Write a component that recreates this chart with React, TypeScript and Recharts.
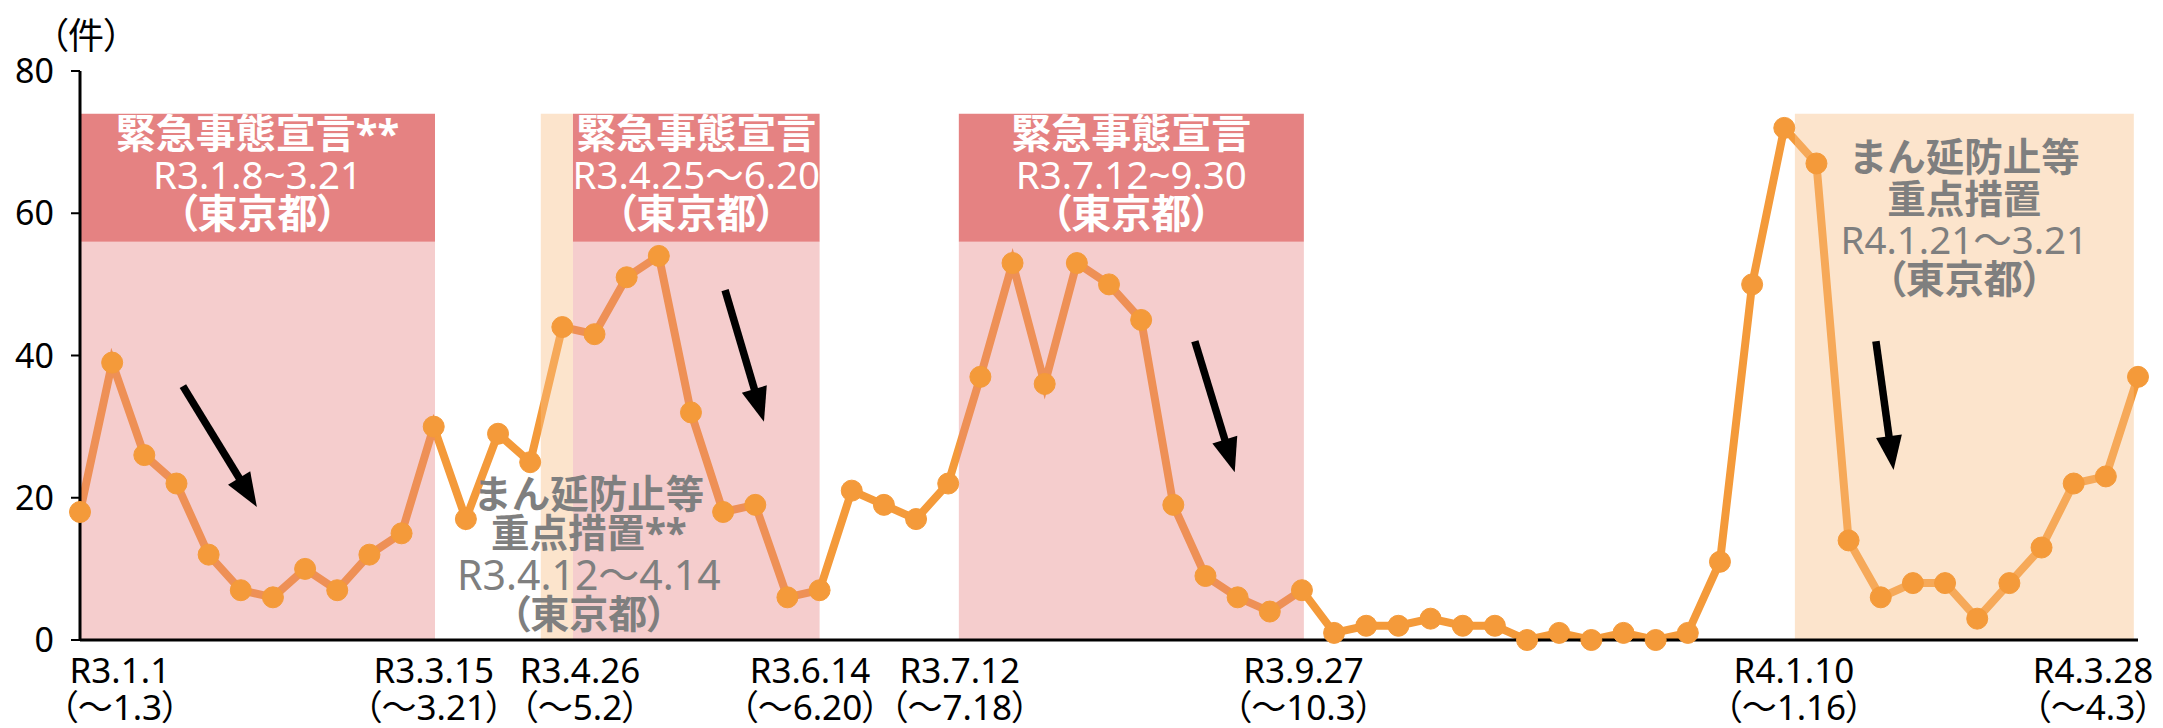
import React from 'react';
import { LineChart, Line, XAxis, YAxis, ReferenceArea, ReferenceLine } from 'recharts';

// weekly counts (R3.1.1 ... R4.3.28)
const counts = [
  18, 39, 26, 22, 12, 7, 6, 10, 7, 12,
  15, 30, 17, 29, 25, 44, 43, 51, 54, 32,
  18, 19, 6, 7, 21, 19, 17, 22, 37, 53,
  36, 53, 50, 45, 19, 9, 6, 4, 7, 1,
  2, 2, 3, 2, 2, 0, 1, 0, 1, 0,
  1, 11, 50, 72, 67, 14, 6, 8, 8, 3,
  8, 13, 22, 23, 37,
];

const xTickPos = [1.24, 11, 15.55, 22.7, 27.36, 38.05, 53.3, 62.6];
const xTickDate = ['R3.1.1', 'R3.3.15', 'R3.4.26', 'R3.6.14', 'R3.7.12', 'R3.9.27', 'R4.1.10', 'R4.3.28'];
const xTickRange = ['（～1.3）', '（～3.21）', '（～5.2）', '（～6.20）', '（～7.18）', '（～10.3）', '（～1.16）', '（～4.3）'];
const yTicks = [0, 20, 40, 60, 80];

const emergencyStart = [0, 15.33, 27.33];
const emergencyEnd = [11.04, 23, 38.06];
const emergencyTitle = ['緊急事態宣言**', '緊急事態宣言', '緊急事態宣言'];
const emergencyDates = ['R3.1.8~3.21', 'R3.4.25～6.20', 'R3.7.12~9.30'];

const manbouStart = [14.33, 53.33];
const manbouEnd = [15.33, 63.87];
const manbouTitle1 = ['まん延防止等', 'まん延防止等'];
const manbouTitle2 = ['重点措置**', '重点措置'];
const manbouDates = ['R3.4.12～4.14', 'R4.1.21～3.21'];
const regionName = '（東京都）';

const headerLow = 56;
const headerHigh = 74;

const arrowFromX = [3.2, 20.06, 34.67, 55.85];
const arrowFromY = [35.7, 49.2, 42.0, 42.0];
const arrowToX = [5.5, 21.27, 35.91, 56.4];
const arrowToY = [18.7, 30.7, 23.6, 23.9];

const data = counts.map((v, i) => ({ week: i, count: v }));

const FONT = "'Noto Sans', 'Noto Sans CJK JP', sans-serif";
const PALT = { fontFeatureSettings: '"palt"' } as React.CSSProperties;
const LINE_COLOR = '#F49A3A';
const EMERGENCY = '#E58282';
const MANBOU = '#F8BF86';
const GRAY = '#7F7F7F';

const XTick = (props: any) => {
  const { x, y, payload } = props;
  const i = xTickPos.indexOf(payload.value);
  if (i < 0) return null;
  return (
    <g>
      <text x={x} y={y + 43} textAnchor="middle" fontSize={35} fontFamily={FONT} fill="#000">
        {xTickDate[i]}
      </text>
      <text x={x} y={y + 80} textAnchor="middle" fontSize={35} fontFamily={FONT} fill="#000" style={PALT}>
        {xTickRange[i]}
      </text>
    </g>
  );
};

const YTick = (props: any) => {
  const { x, y, payload } = props;
  return (
    <text x={x} y={y} dy="0.36em" textAnchor="end" fontSize={34} fontFamily={FONT} fill="#000">
      {payload.value}
    </text>
  );
};

const makeHeaderLabel = (k: number) => (props: any) => {
  const vb = props.viewBox;
  if (!vb) return null;
  const cx = vb.x + vb.width / 2;
  const id = `hdrclip${k}`;
  return (
    <g>
      <defs>
        <clipPath id={id}>
          <rect x={vb.x} y={vb.y} width={vb.width} height={vb.height} />
        </clipPath>
      </defs>
      <g clipPath={`url(#${id})`} fontFamily={FONT} fill="#fff" textAnchor="middle">
        <text x={cx} y={vb.y + 19} dominantBaseline="central" fontWeight={700} fontSize={40}>
          {emergencyTitle[k]}
        </text>
        <text x={cx} y={vb.y + 60} dominantBaseline="central" fontSize={38.5}>
          {emergencyDates[k]}
        </text>
        <text x={cx} y={vb.y + 99} dominantBaseline="central" fontWeight={700} fontSize={40} style={PALT}>
          {regionName}
        </text>
      </g>
    </g>
  );
};

const manbouOffsets = [
  { dx: 32, ys: [379, 418, 460, 499], dateSize: 41 },
  { dx: 0, ys: [42, 84, 125, 164], dateSize: 38.5 },
];

const makeManbouLabel = (k: number) => (props: any) => {
  const vb = props.viewBox;
  if (!vb) return null;
  const o = manbouOffsets[k];
  const cx = vb.x + vb.width / 2 + o.dx;
  return (
    <g fontFamily={FONT} fill={GRAY} textAnchor="middle">
      <text x={cx} y={vb.y + o.ys[0]} dominantBaseline="central" fontWeight={700} fontSize={38.5}>
        {manbouTitle1[k]}
      </text>
      <text x={cx} y={vb.y + o.ys[1]} dominantBaseline="central" fontWeight={700} fontSize={38.5}>
        {manbouTitle2[k]}
      </text>
      <text x={cx} y={vb.y + o.ys[2]} dominantBaseline="central" fontSize={o.dateSize}>
        {manbouDates[k]}
      </text>
      <text x={cx} y={vb.y + o.ys[3]} dominantBaseline="central" fontWeight={700} fontSize={39} style={PALT}>
        {regionName}
      </text>
    </g>
  );
};

const Arrow = (p: any) => {
  const { x1, y1, x2, y2 } = p;
  if ([x1, y1, x2, y2].some((v) => typeof v !== 'number' || isNaN(v))) return null;
  const dx = x2 - x1;
  const dy = y2 - y1;
  const len = Math.hypot(dx, dy);
  const ux = dx / len;
  const uy = dy / len;
  const hl = 34;
  const hw = 13;
  const bx = x2 - ux * hl;
  const by = y2 - uy * hl;
  const px = -uy;
  const py = ux;
  return (
    <g>
      <line x1={x1} y1={y1} x2={bx + ux * 3} y2={by + uy * 3} stroke="#000" strokeWidth={7.5} />
      <polygon
        points={`${x2},${y2} ${bx + px * hw},${by + py * hw} ${bx - px * hw},${by - py * hw}`}
        fill="#000"
      />
    </g>
  );
};

const UnitLabel = (props: any) => {
  const vb = props.viewBox;
  if (!vb) return null;
  return (
    <text x={vb.x + 50} y={vb.y - 22} fontSize={36} fontFamily={FONT} fill="#000" textAnchor="start" style={PALT}>
      （件）
    </text>
  );
};

export default function App() {
  return (
    <div style={{ position: 'absolute', left: 0, top: 0, width: 2163, height: 728, background: '#fff' }}>
      <LineChart
        width={2163}
        height={728}
        data={data}
        margin={{ top: 71, right: 25, bottom: 0, left: 0 }}
      >
        <XAxis
          dataKey="week"
          type="number"
          domain={[0, 64]}
          ticks={xTickPos}
          interval={0}
          allowDecimals
          tick={<XTick />}
          tickLine={false}
          tickSize={0}
          tickMargin={0}
          height={88}
          axisLine={{ stroke: '#000', strokeWidth: 3 }}
        />
        <YAxis
          domain={[0, 80]}
          ticks={yTicks}
          interval={0}
          width={80}
          tick={<YTick />}
          tickSize={9}
          tickMargin={17}
          tickLine={{ stroke: '#000', strokeWidth: 2 }}
          axisLine={{ stroke: '#000', strokeWidth: 3 }}
          label={<UnitLabel />}
        />
        <Line
          dataKey="count"
          stroke={LINE_COLOR}
          strokeWidth={8}
          dot={{ r: 10.5, fill: LINE_COLOR, stroke: LINE_COLOR, strokeWidth: 1 }}
          activeDot={false}
          isAnimationActive={false}
        />
        {emergencyStart.map((s, k) => (
          <ReferenceArea
            key={`eb${k}`}
            x1={s}
            x2={emergencyEnd[k]}
            y1={0}
            y2={headerLow}
            fill={EMERGENCY}
            fillOpacity={0.4}
            stroke="none"
            zIndex={450}
          />
        ))}
        {manbouStart.map((s, k) => (
          <ReferenceArea
            key={`mb${k}`}
            x1={s}
            x2={manbouEnd[k]}
            y1={0}
            y2={headerHigh}
            fill={MANBOU}
            fillOpacity={0.42}
            stroke="none"
            zIndex={450}
            label={makeManbouLabel(k)}
          />
        ))}
        {emergencyStart.map((s, k) => (
          <ReferenceArea
            key={`eh${k}`}
            x1={s}
            x2={emergencyEnd[k]}
            y1={headerLow}
            y2={headerHigh}
            fill={EMERGENCY}
            fillOpacity={1}
            stroke="none"
            zIndex={460}
            label={makeHeaderLabel(k)}
          />
        ))}
        {arrowFromX.map((fx, k) => (
          <ReferenceLine
            key={`ar${k}`}
            segment={[
              { x: fx, y: arrowFromY[k] },
              { x: arrowToX[k], y: arrowToY[k] },
            ]}
            stroke="#000"
            zIndex={470}
            shape={Arrow}
          />
        ))}
      </LineChart>
    </div>
  );
}
